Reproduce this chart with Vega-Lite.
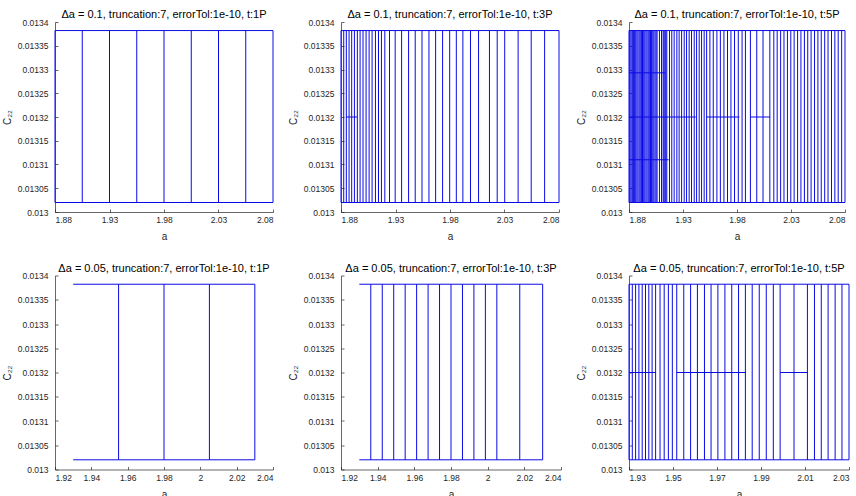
{
  "$schema": "https://vega.github.io/schema/vega-lite/v6.json",
  "background": "white",
  "padding": {"left": 2, "top": 9, "right": 0, "bottom": 0},
  "config": {
    "view": {"stroke": null},
    "title": {"font": "Liberation Sans", "fontSize": 11, "fontWeight": "normal", "color": "#000000", "anchor": "middle", "offset": -2},
    "axis": {
      "grid": false,
      "domainColor": "#262626", "domainWidth": 0.7,
      "tickColor": "#262626", "tickWidth": 0.7, "tickSize": -3,
      "labelColor": "#262626", "labelFont": "Liberation Sans", "labelFontSize": 8.5,
      "titleColor": "#262626", "titleFont": "Liberation Sans", "titleFontSize": 10, "titleFontWeight": "normal"
    },
    "axisX": {"labelPadding": 6.5, "titlePadding": 7.5},
    "axisY": {"labelPadding": 10, "titlePadding": 5},
    "rule": {"color": "#0a0ae6", "strokeWidth": 1}
  },
  "datasets": {
    "segments": [
      {"p":1,"a0":1.88,"a1":2.08,"c0":0.013382,"c1":0.013382},
      {"p":1,"a0":1.88,"a1":2.08,"c0":0.01302,"c1":0.01302},
      {"p":1,"a0":1.88,"a1":1.88,"c0":0.01302,"c1":0.013382},
      {"p":1,"a0":1.905,"a1":1.905,"c0":0.01302,"c1":0.013382},
      {"p":1,"a0":1.93,"a1":1.93,"c0":0.01302,"c1":0.013382},
      {"p":1,"a0":1.955,"a1":1.955,"c0":0.01302,"c1":0.013382},
      {"p":1,"a0":1.98,"a1":1.98,"c0":0.01302,"c1":0.013382},
      {"p":1,"a0":2.005,"a1":2.005,"c0":0.01302,"c1":0.013382},
      {"p":1,"a0":2.03,"a1":2.03,"c0":0.01302,"c1":0.013382},
      {"p":1,"a0":2.055,"a1":2.055,"c0":0.01302,"c1":0.013382},
      {"p":1,"a0":2.08,"a1":2.08,"c0":0.01302,"c1":0.013382},

      {"p":2,"a0":1.88,"a1":2.08,"c0":0.013382,"c1":0.013382},
      {"p":2,"a0":1.88,"a1":2.08,"c0":0.01302,"c1":0.01302},
      {"p":2,"a0":1.8846,"a1":1.8947,"c0":0.0132,"c1":0.0132},
      {"p":2,"a0":1.88,"a1":1.88,"c0":0.01302,"c1":0.013382},
      {"p":2,"a0":1.8825,"a1":1.8825,"c0":0.01302,"c1":0.013382},
      {"p":2,"a0":1.8849,"a1":1.8849,"c0":0.01302,"c1":0.013382},
      {"p":2,"a0":1.8874,"a1":1.8874,"c0":0.01302,"c1":0.013382},
      {"p":2,"a0":1.8898,"a1":1.8898,"c0":0.01302,"c1":0.013382},
      {"p":2,"a0":1.8923,"a1":1.8923,"c0":0.01302,"c1":0.013382},
      {"p":2,"a0":1.895,"a1":1.895,"c0":0.01302,"c1":0.013382},
      {"p":2,"a0":1.8975,"a1":1.8975,"c0":0.01302,"c1":0.013382},
      {"p":2,"a0":1.9002,"a1":1.9002,"c0":0.01302,"c1":0.013382},
      {"p":2,"a0":1.903,"a1":1.903,"c0":0.01302,"c1":0.013382},
      {"p":2,"a0":1.9058,"a1":1.9058,"c0":0.01302,"c1":0.013382},
      {"p":2,"a0":1.9085,"a1":1.9085,"c0":0.01302,"c1":0.013382},
      {"p":2,"a0":1.9116,"a1":1.9116,"c0":0.01302,"c1":0.013382},
      {"p":2,"a0":1.9144,"a1":1.9144,"c0":0.01302,"c1":0.013382},
      {"p":2,"a0":1.9171,"a1":1.9171,"c0":0.01302,"c1":0.013382},
      {"p":2,"a0":1.9202,"a1":1.9202,"c0":0.01302,"c1":0.013382},
      {"p":2,"a0":1.9245,"a1":1.9245,"c0":0.01302,"c1":0.013382},
      {"p":2,"a0":1.9297,"a1":1.9297,"c0":0.01302,"c1":0.013382},
      {"p":2,"a0":1.9356,"a1":1.9356,"c0":0.01302,"c1":0.013382},
      {"p":2,"a0":1.942,"a1":1.942,"c0":0.01302,"c1":0.013382},
      {"p":2,"a0":1.9481,"a1":1.9481,"c0":0.01302,"c1":0.013382},
      {"p":2,"a0":1.9543,"a1":1.9543,"c0":0.01302,"c1":0.013382},
      {"p":2,"a0":1.9607,"a1":1.9607,"c0":0.01302,"c1":0.013382},
      {"p":2,"a0":1.9668,"a1":1.9668,"c0":0.01302,"c1":0.013382},
      {"p":2,"a0":1.9732,"a1":1.9732,"c0":0.01302,"c1":0.013382},
      {"p":2,"a0":1.9797,"a1":1.9797,"c0":0.01302,"c1":0.013382},
      {"p":2,"a0":1.9858,"a1":1.9858,"c0":0.01302,"c1":0.013382},
      {"p":2,"a0":1.9918,"a1":1.9918,"c0":0.01302,"c1":0.013382},
      {"p":2,"a0":1.9988,"a1":1.9988,"c0":0.01302,"c1":0.013382},
      {"p":2,"a0":2.0062,"a1":2.0062,"c0":0.01302,"c1":0.013382},
      {"p":2,"a0":2.0162,"a1":2.0162,"c0":0.01302,"c1":0.013382},
      {"p":2,"a0":2.0233,"a1":2.0233,"c0":0.01302,"c1":0.013382},
      {"p":2,"a0":2.0302,"a1":2.0302,"c0":0.01302,"c1":0.013382},
      {"p":2,"a0":2.0425,"a1":2.0425,"c0":0.01302,"c1":0.013382},
      {"p":2,"a0":2.0545,"a1":2.0545,"c0":0.01302,"c1":0.013382},
      {"p":2,"a0":2.0668,"a1":2.0668,"c0":0.01302,"c1":0.013382},
      {"p":2,"a0":2.08,"a1":2.08,"c0":0.01302,"c1":0.013382},

      {"p":3,"a0":1.88,"a1":2.08,"c0":0.013382,"c1":0.013382},
      {"p":3,"a0":1.88,"a1":2.08,"c0":0.01302,"c1":0.01302},
      {"p":3,"a0":1.88,"a1":1.9136,"c0":0.013293,"c1":0.013293},
      {"p":3,"a0":1.88,"a1":1.9418,"c0":0.0132,"c1":0.0132},
      {"p":3,"a0":1.9515,"a1":1.9822,"c0":0.0132,"c1":0.0132},
      {"p":3,"a0":1.9924,"a1":2.0107,"c0":0.0132,"c1":0.0132},
      {"p":3,"a0":1.88,"a1":1.9167,"c0":0.01311,"c1":0.01311},
      {"p":3,"a0":1.88,"a1":1.88,"c0":0.01302,"c1":0.013382},
      {"p":3,"a0":1.881,"a1":1.881,"c0":0.01302,"c1":0.013382},
      {"p":3,"a0":1.882,"a1":1.882,"c0":0.01302,"c1":0.013382},
      {"p":3,"a0":1.8831,"a1":1.8831,"c0":0.01302,"c1":0.013382},
      {"p":3,"a0":1.8841,"a1":1.8841,"c0":0.01302,"c1":0.013382},
      {"p":3,"a0":1.8852,"a1":1.8852,"c0":0.01302,"c1":0.013382},
      {"p":3,"a0":1.8862,"a1":1.8862,"c0":0.01302,"c1":0.013382},
      {"p":3,"a0":1.8873,"a1":1.8873,"c0":0.01302,"c1":0.013382},
      {"p":3,"a0":1.8883,"a1":1.8883,"c0":0.01302,"c1":0.013382},
      {"p":3,"a0":1.8894,"a1":1.8894,"c0":0.01302,"c1":0.013382},
      {"p":3,"a0":1.8904,"a1":1.8904,"c0":0.01302,"c1":0.013382},
      {"p":3,"a0":1.8915,"a1":1.8915,"c0":0.01302,"c1":0.013382},
      {"p":3,"a0":1.8925,"a1":1.8925,"c0":0.01302,"c1":0.013382},
      {"p":3,"a0":1.8936,"a1":1.8936,"c0":0.01302,"c1":0.013382},
      {"p":3,"a0":1.8946,"a1":1.8946,"c0":0.01302,"c1":0.013382},
      {"p":3,"a0":1.8957,"a1":1.8957,"c0":0.01302,"c1":0.013382},
      {"p":3,"a0":1.8967,"a1":1.8967,"c0":0.01302,"c1":0.013382},
      {"p":3,"a0":1.8978,"a1":1.8978,"c0":0.01302,"c1":0.013382},
      {"p":3,"a0":1.8988,"a1":1.8988,"c0":0.01302,"c1":0.013382},
      {"p":3,"a0":1.8999,"a1":1.8999,"c0":0.01302,"c1":0.013382},
      {"p":3,"a0":1.9009,"a1":1.9009,"c0":0.01302,"c1":0.013382},
      {"p":3,"a0":1.902,"a1":1.902,"c0":0.01302,"c1":0.013382},
      {"p":3,"a0":1.903,"a1":1.903,"c0":0.01302,"c1":0.013382},
      {"p":3,"a0":1.9041,"a1":1.9041,"c0":0.01302,"c1":0.013382},
      {"p":3,"a0":1.9051,"a1":1.9051,"c0":0.01302,"c1":0.013382},
      {"p":3,"a0":1.906,"a1":1.906,"c0":0.01302,"c1":0.013382},
      {"p":3,"a0":1.9082,"a1":1.9082,"c0":0.01302,"c1":0.013382},
      {"p":3,"a0":1.9101,"a1":1.9101,"c0":0.01302,"c1":0.013382},
      {"p":3,"a0":1.9116,"a1":1.9116,"c0":0.01302,"c1":0.013382},
      {"p":3,"a0":1.9124,"a1":1.9124,"c0":0.01302,"c1":0.013382},
      {"p":3,"a0":1.9133,"a1":1.9133,"c0":0.01302,"c1":0.013382},
      {"p":3,"a0":1.9141,"a1":1.9141,"c0":0.01302,"c1":0.013382},
      {"p":3,"a0":1.915,"a1":1.915,"c0":0.01302,"c1":0.013382},
      {"p":3,"a0":1.9175,"a1":1.9175,"c0":0.01302,"c1":0.013382},
      {"p":3,"a0":1.9196,"a1":1.9196,"c0":0.01302,"c1":0.013382},
      {"p":3,"a0":1.9218,"a1":1.9218,"c0":0.01302,"c1":0.013382},
      {"p":3,"a0":1.9243,"a1":1.9243,"c0":0.01302,"c1":0.013382},
      {"p":3,"a0":1.9264,"a1":1.9264,"c0":0.01302,"c1":0.013382},
      {"p":3,"a0":1.9287,"a1":1.9287,"c0":0.01302,"c1":0.013382},
      {"p":3,"a0":1.9311,"a1":1.9311,"c0":0.01302,"c1":0.013382},
      {"p":3,"a0":1.9333,"a1":1.9333,"c0":0.01302,"c1":0.013382},
      {"p":3,"a0":1.9357,"a1":1.9357,"c0":0.01302,"c1":0.013382},
      {"p":3,"a0":1.9379,"a1":1.9379,"c0":0.01302,"c1":0.013382},
      {"p":3,"a0":1.9404,"a1":1.9404,"c0":0.01302,"c1":0.013382},
      {"p":3,"a0":1.9426,"a1":1.9426,"c0":0.01302,"c1":0.013382},
      {"p":3,"a0":1.945,"a1":1.945,"c0":0.01302,"c1":0.013382},
      {"p":3,"a0":1.9472,"a1":1.9472,"c0":0.01302,"c1":0.013382},
      {"p":3,"a0":1.9496,"a1":1.9496,"c0":0.01302,"c1":0.013382},
      {"p":3,"a0":1.9519,"a1":1.9519,"c0":0.01302,"c1":0.013382},
      {"p":3,"a0":1.9549,"a1":1.9549,"c0":0.01302,"c1":0.013382},
      {"p":3,"a0":1.958,"a1":1.958,"c0":0.01302,"c1":0.013382},
      {"p":3,"a0":1.9614,"a1":1.9614,"c0":0.01302,"c1":0.013382},
      {"p":3,"a0":1.9646,"a1":1.9646,"c0":0.01302,"c1":0.013382},
      {"p":3,"a0":1.9679,"a1":1.9679,"c0":0.01302,"c1":0.013382},
      {"p":3,"a0":1.9712,"a1":1.9712,"c0":0.01302,"c1":0.013382},
      {"p":3,"a0":1.9744,"a1":1.9744,"c0":0.01302,"c1":0.013382},
      {"p":3,"a0":1.9777,"a1":1.9777,"c0":0.01302,"c1":0.013382},
      {"p":3,"a0":1.9812,"a1":1.9812,"c0":0.01302,"c1":0.013382},
      {"p":3,"a0":1.9847,"a1":1.9847,"c0":0.01302,"c1":0.013382},
      {"p":3,"a0":1.9878,"a1":1.9878,"c0":0.01302,"c1":0.013382},
      {"p":3,"a0":1.9924,"a1":1.9924,"c0":0.01302,"c1":0.013382},
      {"p":3,"a0":1.9983,"a1":1.9983,"c0":0.01302,"c1":0.013382},
      {"p":3,"a0":2.0041,"a1":2.0041,"c0":0.01302,"c1":0.013382},
      {"p":3,"a0":2.0104,"a1":2.0104,"c0":0.01302,"c1":0.013382},
      {"p":3,"a0":2.0141,"a1":2.0141,"c0":0.01302,"c1":0.013382},
      {"p":3,"a0":2.0172,"a1":2.0172,"c0":0.01302,"c1":0.013382},
      {"p":3,"a0":2.0204,"a1":2.0204,"c0":0.01302,"c1":0.013382},
      {"p":3,"a0":2.0235,"a1":2.0235,"c0":0.01302,"c1":0.013382},
      {"p":3,"a0":2.0267,"a1":2.0267,"c0":0.01302,"c1":0.013382},
      {"p":3,"a0":2.0298,"a1":2.0298,"c0":0.01302,"c1":0.013382},
      {"p":3,"a0":2.0329,"a1":2.0329,"c0":0.01302,"c1":0.013382},
      {"p":3,"a0":2.0361,"a1":2.0361,"c0":0.01302,"c1":0.013382},
      {"p":3,"a0":2.0392,"a1":2.0392,"c0":0.01302,"c1":0.013382},
      {"p":3,"a0":2.0424,"a1":2.0424,"c0":0.01302,"c1":0.013382},
      {"p":3,"a0":2.0455,"a1":2.0455,"c0":0.01302,"c1":0.013382},
      {"p":3,"a0":2.0486,"a1":2.0486,"c0":0.01302,"c1":0.013382},
      {"p":3,"a0":2.0518,"a1":2.0518,"c0":0.01302,"c1":0.013382},
      {"p":3,"a0":2.0549,"a1":2.0549,"c0":0.01302,"c1":0.013382},
      {"p":3,"a0":2.058,"a1":2.058,"c0":0.01302,"c1":0.013382},
      {"p":3,"a0":2.0612,"a1":2.0612,"c0":0.01302,"c1":0.013382},
      {"p":3,"a0":2.0643,"a1":2.0643,"c0":0.01302,"c1":0.013382},
      {"p":3,"a0":2.0675,"a1":2.0675,"c0":0.01302,"c1":0.013382},
      {"p":3,"a0":2.0706,"a1":2.0706,"c0":0.01302,"c1":0.013382},
      {"p":3,"a0":2.0737,"a1":2.0737,"c0":0.01302,"c1":0.013382},
      {"p":3,"a0":2.0769,"a1":2.0769,"c0":0.01302,"c1":0.013382},
      {"p":3,"a0":2.08,"a1":2.08,"c0":0.01302,"c1":0.013382},

      {"p":4,"a0":1.93,"a1":2.03,"c0":0.013382,"c1":0.013382},
      {"p":4,"a0":1.93,"a1":2.03,"c0":0.01302,"c1":0.01302},
      {"p":4,"a0":1.955,"a1":1.955,"c0":0.01302,"c1":0.013382},
      {"p":4,"a0":1.98,"a1":1.98,"c0":0.01302,"c1":0.013382},
      {"p":4,"a0":2.005,"a1":2.005,"c0":0.01302,"c1":0.013382},
      {"p":4,"a0":2.03,"a1":2.03,"c0":0.01302,"c1":0.013382},

      {"p":5,"a0":1.93,"a1":2.03,"c0":0.013382,"c1":0.013382},
      {"p":5,"a0":1.93,"a1":2.03,"c0":0.01302,"c1":0.01302},
      {"p":5,"a0":1.93625,"a1":1.93625,"c0":0.01302,"c1":0.013382},
      {"p":5,"a0":1.9425,"a1":1.9425,"c0":0.01302,"c1":0.013382},
      {"p":5,"a0":1.94875,"a1":1.94875,"c0":0.01302,"c1":0.013382},
      {"p":5,"a0":1.955,"a1":1.955,"c0":0.01302,"c1":0.013382},
      {"p":5,"a0":1.96125,"a1":1.96125,"c0":0.01302,"c1":0.013382},
      {"p":5,"a0":1.9675,"a1":1.9675,"c0":0.01302,"c1":0.013382},
      {"p":5,"a0":1.97375,"a1":1.97375,"c0":0.01302,"c1":0.013382},
      {"p":5,"a0":1.98,"a1":1.98,"c0":0.01302,"c1":0.013382},
      {"p":5,"a0":1.98625,"a1":1.98625,"c0":0.01302,"c1":0.013382},
      {"p":5,"a0":1.9925,"a1":1.9925,"c0":0.01302,"c1":0.013382},
      {"p":5,"a0":1.99875,"a1":1.99875,"c0":0.01302,"c1":0.013382},
      {"p":5,"a0":2.005,"a1":2.005,"c0":0.01302,"c1":0.013382},
      {"p":5,"a0":2.0175,"a1":2.0175,"c0":0.01302,"c1":0.013382},
      {"p":5,"a0":2.03,"a1":2.03,"c0":0.01302,"c1":0.013382},

      {"p":6,"a0":1.93,"a1":2.03,"c0":0.013382,"c1":0.013382},
      {"p":6,"a0":1.93,"a1":2.03,"c0":0.01302,"c1":0.01302},
      {"p":6,"a0":1.93,"a1":1.9421,"c0":0.0132,"c1":0.0132},
      {"p":6,"a0":1.9517,"a1":1.9832,"c0":0.0132,"c1":0.0132},
      {"p":6,"a0":1.9987,"a1":2.0111,"c0":0.0132,"c1":0.0132},
      {"p":6,"a0":1.93,"a1":1.93,"c0":0.01302,"c1":0.013382},
      {"p":6,"a0":1.9315,"a1":1.9315,"c0":0.01302,"c1":0.013382},
      {"p":6,"a0":1.933,"a1":1.933,"c0":0.01302,"c1":0.013382},
      {"p":6,"a0":1.9345,"a1":1.9345,"c0":0.01302,"c1":0.013382},
      {"p":6,"a0":1.936,"a1":1.936,"c0":0.01302,"c1":0.013382},
      {"p":6,"a0":1.9375,"a1":1.9375,"c0":0.01302,"c1":0.013382},
      {"p":6,"a0":1.939,"a1":1.939,"c0":0.01302,"c1":0.013382},
      {"p":6,"a0":1.9405,"a1":1.9405,"c0":0.01302,"c1":0.013382},
      {"p":6,"a0":1.9421,"a1":1.9421,"c0":0.01302,"c1":0.013382},
      {"p":6,"a0":1.9441,"a1":1.9441,"c0":0.01302,"c1":0.013382},
      {"p":6,"a0":1.946,"a1":1.946,"c0":0.01302,"c1":0.013382},
      {"p":6,"a0":1.9479,"a1":1.9479,"c0":0.01302,"c1":0.013382},
      {"p":6,"a0":1.9497,"a1":1.9497,"c0":0.01302,"c1":0.013382},
      {"p":6,"a0":1.9517,"a1":1.9517,"c0":0.01302,"c1":0.013382},
      {"p":6,"a0":1.9549,"a1":1.9549,"c0":0.01302,"c1":0.013382},
      {"p":6,"a0":1.958,"a1":1.958,"c0":0.01302,"c1":0.013382},
      {"p":6,"a0":1.9611,"a1":1.9611,"c0":0.01302,"c1":0.013382},
      {"p":6,"a0":1.9643,"a1":1.9643,"c0":0.01302,"c1":0.013382},
      {"p":6,"a0":1.9673,"a1":1.9673,"c0":0.01302,"c1":0.013382},
      {"p":6,"a0":1.9704,"a1":1.9704,"c0":0.01302,"c1":0.013382},
      {"p":6,"a0":1.9736,"a1":1.9736,"c0":0.01302,"c1":0.013382},
      {"p":6,"a0":1.9767,"a1":1.9767,"c0":0.01302,"c1":0.013382},
      {"p":6,"a0":1.9798,"a1":1.9798,"c0":0.01302,"c1":0.013382},
      {"p":6,"a0":1.9829,"a1":1.9829,"c0":0.01302,"c1":0.013382},
      {"p":6,"a0":1.986,"a1":1.986,"c0":0.01302,"c1":0.013382},
      {"p":6,"a0":1.9892,"a1":1.9892,"c0":0.01302,"c1":0.013382},
      {"p":6,"a0":1.9924,"a1":1.9924,"c0":0.01302,"c1":0.013382},
      {"p":6,"a0":1.9956,"a1":1.9956,"c0":0.01302,"c1":0.013382},
      {"p":6,"a0":1.9987,"a1":1.9987,"c0":0.01302,"c1":0.013382},
      {"p":6,"a0":2.005,"a1":2.005,"c0":0.01302,"c1":0.013382},
      {"p":6,"a0":2.0111,"a1":2.0111,"c0":0.01302,"c1":0.013382},
      {"p":6,"a0":2.0143,"a1":2.0143,"c0":0.01302,"c1":0.013382},
      {"p":6,"a0":2.0174,"a1":2.0174,"c0":0.01302,"c1":0.013382},
      {"p":6,"a0":2.0205,"a1":2.0205,"c0":0.01302,"c1":0.013382},
      {"p":6,"a0":2.0237,"a1":2.0237,"c0":0.01302,"c1":0.013382},
      {"p":6,"a0":2.0268,"a1":2.0268,"c0":0.01302,"c1":0.013382},
      {"p":6,"a0":2.03,"a1":2.03,"c0":0.01302,"c1":0.013382}
    ]
  },
  "columns": 3,
  "spacing": {"row": 63.5, "column": 68},
  "bounds": "flush",
  "concat": [
    {
      "width": 218, "height": 190,
      "title": "Δa = 0.1, truncation:7, errorTol:1e-10, t:1P",
      "data": {"name": "segments"},
      "transform": [{"filter": "datum.p == 1"}],
      "mark": "rule",
      "encoding": {
        "x": {"field": "a0", "type": "quantitative", "scale": {"domain": [1.88, 2.08], "nice": false, "zero": false}, "axis": {"title": "a", "values": [1.88, 1.93, 1.98, 2.03, 2.08], "format": ".2f"}},
        "x2": {"field": "a1"},
        "y": {"field": "c0", "type": "quantitative", "scale": {"domain": [0.013, 0.0134], "nice": false, "zero": false}, "axis": {"title": "C₂₂", "values": [0.013, 0.01305, 0.0131, 0.01315, 0.0132, 0.01325, 0.0133, 0.01335, 0.0134], "format": "~g"}},
        "y2": {"field": "c1"}
      }
    },
    {
      "width": 218, "height": 190,
      "title": "Δa = 0.1, truncation:7, errorTol:1e-10, t:3P",
      "data": {"name": "segments"},
      "transform": [{"filter": "datum.p == 2"}],
      "mark": "rule",
      "encoding": {
        "x": {"field": "a0", "type": "quantitative", "scale": {"domain": [1.88, 2.08], "nice": false, "zero": false}, "axis": {"title": "a", "values": [1.88, 1.93, 1.98, 2.03, 2.08], "format": ".2f"}},
        "x2": {"field": "a1"},
        "y": {"field": "c0", "type": "quantitative", "scale": {"domain": [0.013, 0.0134], "nice": false, "zero": false}, "axis": {"title": "C₂₂", "values": [0.013, 0.01305, 0.0131, 0.01315, 0.0132, 0.01325, 0.0133, 0.01335, 0.0134], "format": "~g"}},
        "y2": {"field": "c1"}
      }
    },
    {
      "width": 216, "height": 190,
      "title": "Δa = 0.1, truncation:7, errorTol:1e-10, t:5P",
      "data": {"name": "segments"},
      "transform": [{"filter": "datum.p == 3"}],
      "mark": "rule",
      "encoding": {
        "x": {"field": "a0", "type": "quantitative", "scale": {"domain": [1.88, 2.08], "nice": false, "zero": false}, "axis": {"title": "a", "values": [1.88, 1.93, 1.98, 2.03, 2.08], "format": ".2f"}},
        "x2": {"field": "a1"},
        "y": {"field": "c0", "type": "quantitative", "scale": {"domain": [0.013, 0.0134], "nice": false, "zero": false}, "axis": {"title": "C₂₂", "values": [0.013, 0.01305, 0.0131, 0.01315, 0.0132, 0.01325, 0.0133, 0.01335, 0.0134], "format": "~g"}},
        "y2": {"field": "c1"}
      }
    },
    {
      "width": 218, "height": 194,
      "title": "Δa = 0.05, truncation:7, errorTol:1e-10, t:1P",
      "data": {"name": "segments"},
      "transform": [{"filter": "datum.p == 4"}],
      "mark": "rule",
      "encoding": {
        "x": {"field": "a0", "type": "quantitative", "scale": {"domain": [1.92, 2.04], "nice": false, "zero": false}, "axis": {"title": "a", "values": [1.92, 1.94, 1.96, 1.98, 2, 2.02, 2.04], "format": "~g"}},
        "x2": {"field": "a1"},
        "y": {"field": "c0", "type": "quantitative", "scale": {"domain": [0.013, 0.0134], "nice": false, "zero": false}, "axis": {"title": "C₂₂", "values": [0.013, 0.01305, 0.0131, 0.01315, 0.0132, 0.01325, 0.0133, 0.01335, 0.0134], "format": "~g"}},
        "y2": {"field": "c1"}
      }
    },
    {
      "width": 220, "height": 194,
      "title": "Δa = 0.05, truncation:7, errorTol:1e-10, t:3P",
      "data": {"name": "segments"},
      "transform": [{"filter": "datum.p == 5"}],
      "mark": "rule",
      "encoding": {
        "x": {"field": "a0", "type": "quantitative", "scale": {"domain": [1.92, 2.04], "nice": false, "zero": false}, "axis": {"title": "a", "values": [1.92, 1.94, 1.96, 1.98, 2, 2.02, 2.04], "format": "~g"}},
        "x2": {"field": "a1"},
        "y": {"field": "c0", "type": "quantitative", "scale": {"domain": [0.013, 0.0134], "nice": false, "zero": false}, "axis": {"title": "C₂₂", "values": [0.013, 0.01305, 0.0131, 0.01315, 0.0132, 0.01325, 0.0133, 0.01335, 0.0134], "format": "~g"}},
        "y2": {"field": "c1"}
      }
    },
    {
      "width": 220, "height": 194,
      "title": "Δa = 0.05, truncation:7, errorTol:1e-10, t:5P",
      "data": {"name": "segments"},
      "transform": [{"filter": "datum.p == 6"}],
      "mark": "rule",
      "encoding": {
        "x": {"field": "a0", "type": "quantitative", "scale": {"domain": [1.93, 2.03], "nice": false, "zero": false}, "axis": {"title": "a", "values": [1.93, 1.95, 1.97, 1.99, 2.01, 2.03], "format": "~g"}},
        "x2": {"field": "a1"},
        "y": {"field": "c0", "type": "quantitative", "scale": {"domain": [0.013, 0.0134], "nice": false, "zero": false}, "axis": {"title": "C₂₂", "values": [0.013, 0.01305, 0.0131, 0.01315, 0.0132, 0.01325, 0.0133, 0.01335, 0.0134], "format": "~g"}},
        "y2": {"field": "c1"}
      }
    }
  ]
}
